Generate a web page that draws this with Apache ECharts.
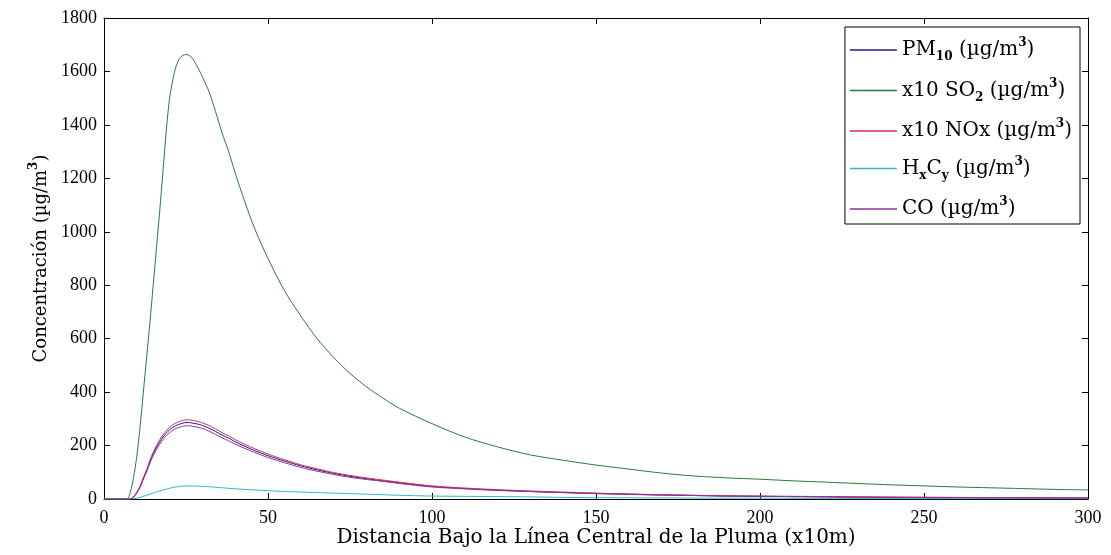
<!DOCTYPE html>
<html>
<head>
<meta charset="utf-8">
<script src="https://cdn.jsdelivr.net/npm/echarts@6/dist/echarts.min.js"></script>
<style>html,body{margin:0;padding:0;background:#fff}#c{width:1111px;height:555px}</style>
</head>
<body>
<div id="c"></div>
<script>
// distance (x10 m)
var xs = [0,5,7,8,9,10,11,12,13,14,15,16,17,18,19,20,21,22,23,24,25,26,27,28,29,30,32,34,36,38,40,43,46,50,55,60,65,70,75,80,85,90,100,110,120,130,140,150,160,170,180,190,200,210,220,230,240,250,260,270,280,290,300];
var pm10 = [0,0,0,0,8,24,46,77,106,140,169,193,214,232,247,259,268,275,280,284,286,286,284,282,279,275,265,253,239,228,214,197,181,162,142,124,109,96,85,76,68,61,47,39,33,28,24,21,18,15,13,11,10,9,8,7,6.5,6,5.5,5,4.5,4,3.5];
var so2x10 = [0,0,0,25,80,160,270,400,530,660,800,940,1080,1230,1380,1500,1570,1620,1648,1660,1663,1660,1648,1628,1605,1580,1525,1450,1370,1300,1220,1110,1010,900,780,685,600,530,470,420,378,340,282,232,195,165,145,127,112,97,86,79,74,68,63,58,53,49,45,42,39,36,34];
var noxx10 = [0,0,0,0,8,25,48,80,110,145,175,200,222,240,256,268,278,285,290,294,296,296,294,292,289,285,275,262,248,236,222,204,188,168,147,128,113,99,88,79,71,63,49,41,35,30,26,22,19,16,14,12,11,10,9,8,7,6.5,6,5.5,5,4.5,4];
var hxcy = [0,0,0,0,1,3,6,10,14,18,22,26,30,34,37,40,43,45,47,48,49,49,49,48,48,47,46,44,42,40,38,36,34,31,28,26,24,22,20,18,16,14,11,10,9,8,6,5,4.5,4,3.5,3,3,2.5,2.5,2,2,2,1.5,1.5,1.5,1,1];
var co = [0,0,0,0,7,23,44,74,102,134,162,185,205,222,237,248,257,264,268,272,274,274,272,270,267,264,254,242,229,218,205,189,174,155,136,118,104,92,81,73,66,58,45,38,32,28,24,20,17,15,13,11,10,9,8,7,6,5.5,5,4.5,4,3.8,3.5];
var seriesNames = ['PM10','SO2','NOx','HxCy','CO'];
var legendLabels = {
  'PM10': '{t|PM}{sub|10}{t| (µg/m}{sup|3}{t|)}',
  'SO2': '{t|x10 SO}{sub|2}{t| (µg/m}{sup|3}{t|)}',
  'NOx': '{t|x10 NOx (µg/m}{sup|3}{t|)}',
  'HxCy': '{t|H}{sub|x}{t|C}{sub|y}{t| (µg/m}{sup|3}{t|)}',
  'CO': '{t|CO (µg/m}{sup|3}{t|)}'
};
var colors = ['#1c1c8a','#2b7a3b','#d03050','#30b8c0','#9030a0'];
var xTicks = [0,50,100,150,200,250,300];
var yTicks = [0,200,400,600,800,1000,1200,1400,1600,1800];

function pairs(ys){ return xs.map(function(x,i){ return [x, ys[i]]; }); }
var TICKFONT = 'Liberation Serif';
var FONT = 'DejaVu Serif';
function makeRich(size){
  return {
    t: {fontFamily: FONT, fontSize: size, color: '#000', lineHeight: 26},
    sup: {fontFamily: FONT, fontSize: 12, fontWeight: 'bold', color: '#000', lineHeight: 12, verticalAlign: 'top'},
    sub: {fontFamily: FONT, fontSize: 12, fontWeight: 'bold', color: '#000', lineHeight: 12, verticalAlign: 'bottom'}
  };
}
var chart = echarts.init(document.getElementById('c'), null, {renderer: 'canvas'});
var allData = [pm10, so2x10, noxx10, hxcy, co];
function axisBase(){
  return {
    min: 0,
    axisLine: {show: true, onZero: false, lineStyle: {color: '#000', width: 1}},
    axisTick: {show: true, inside: true, length: 6, lineStyle: {color: '#000'}},
    splitLine: {show: false}
  };
}
chart.setOption({
  animation: false,
  backgroundColor: '#fff',
  color: colors,
  grid: {left: 104, right: 23, top: 18, bottom: 56, containLabel: false, outerBoundsMode: 'none'},
  legend: {
    orient: 'vertical', right: 31, top: 27,
    data: seriesNames,
    icon: 'rect',
    itemWidth: 47, itemHeight: 1.5, itemGap: 14.5,
    padding: [10, 8, 5, 5],
    borderColor: '#000', borderWidth: 1, backgroundColor: '#fff',
    formatter: function(n){ return legendLabels[n]; },
    textStyle: {fontFamily: FONT, fontSize: 20, color: '#000', rich: makeRich(20)}
  },
  xAxis: [
    Object.assign(axisBase(), {
      type: 'value', max: 300, interval: 50, position: 'bottom',
      axisLabel: {fontFamily: TICKFONT, fontSize: 18, color: '#000', margin: 10,
        formatter: function(v){ return xTicks.indexOf(v) >= 0 ? String(v) : ''; }},
      name: 'Distancia Bajo la Línea Central de la Pluma (x10m)',
      nameLocation: 'middle', nameGap: 29, nameMoveOverlap: false,
      nameTextStyle: {fontFamily: FONT, fontSize: 20, color: '#000'}
    }),
    Object.assign(axisBase(), {
      type: 'value', max: 300, interval: 50, position: 'top',
      axisLabel: {show: false}
    })
  ],
  yAxis: [
    Object.assign(axisBase(), {
      type: 'value', max: 1800, interval: 200, position: 'left',
      axisLabel: {fontFamily: TICKFONT, fontSize: 18, color: '#000', margin: 7,
        formatter: function(v){ return yTicks.indexOf(v) >= 0 ? String(v) : ''; }},
      name: '{t|Concentración (µg/m}{sup|3}{t|)}',
      nameLocation: 'middle', nameGap: 50, nameMoveOverlap: false,
      nameTextStyle: {fontFamily: FONT, fontSize: 18, color: '#000', rich: makeRich(18)}
    }),
    Object.assign(axisBase(), {
      type: 'value', max: 1800, interval: 200, position: 'right',
      axisLabel: {show: false}
    })
  ],
  series: seriesNames.map(function(n, i){
    return {
      name: n, type: 'line', data: pairs(allData[i]),
      symbol: 'none', smooth: 0.3, lineStyle: {width: 1, color: colors[i]},
      itemStyle: {color: colors[i]}, xAxisIndex: 0, yAxisIndex: 0
    };
  })
});
</script>
</body>
</html>
